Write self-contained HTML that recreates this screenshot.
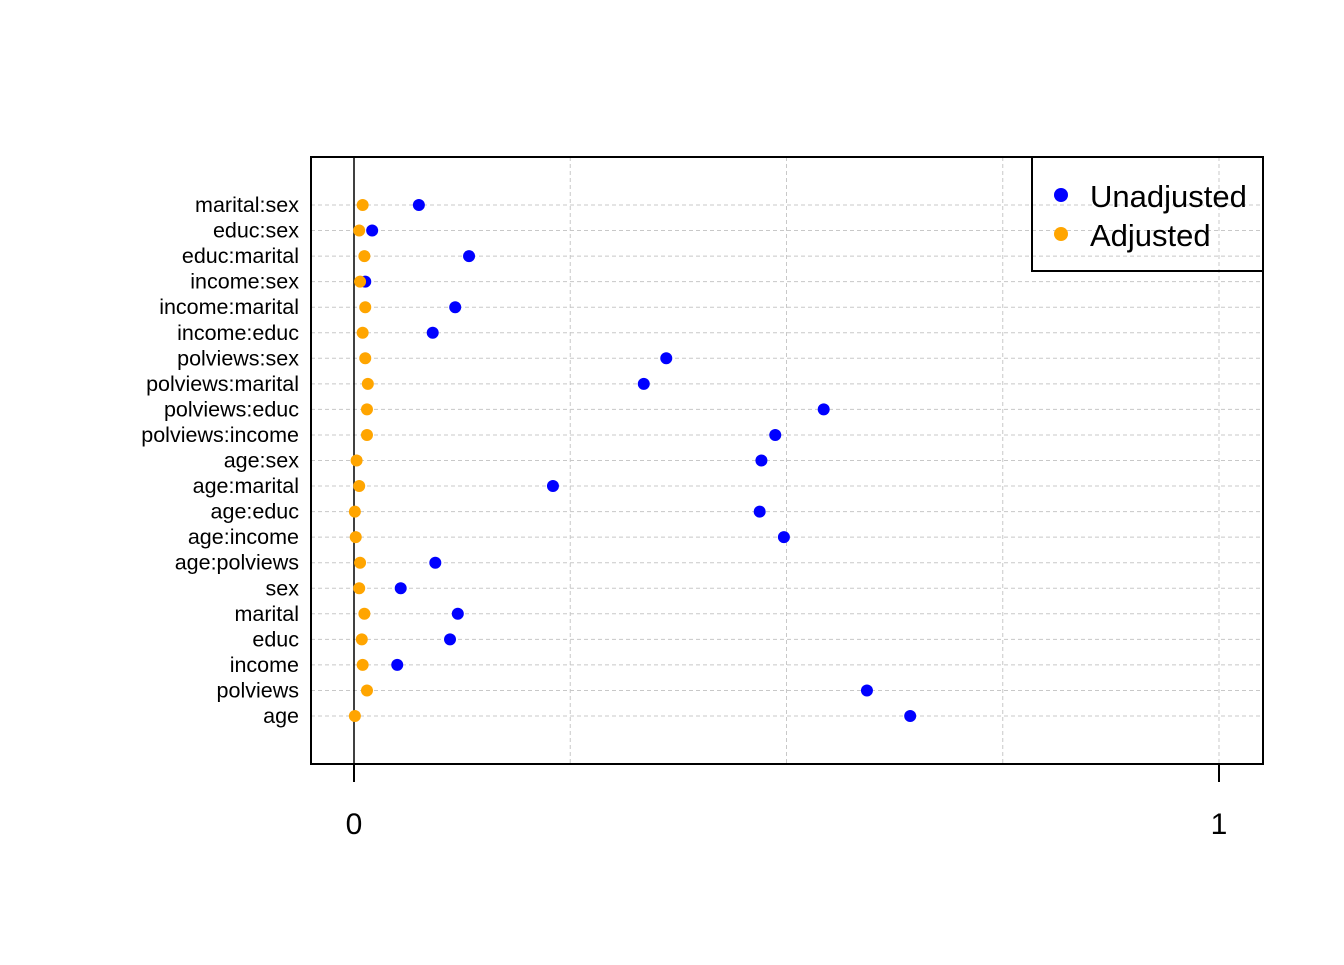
<!DOCTYPE html>
<html><head><meta charset="utf-8"><style>body{margin:0;background:#fff}svg text{font-family:"Liberation Sans",Arial,sans-serif}</style></head>
<body>
<svg id="chart" width="1344" height="960" xmlns="http://www.w3.org/2000/svg"></svg>
<script>
const categories=["marital:sex","educ:sex","educ:marital","income:sex","income:marital","income:educ","polviews:sex","polviews:marital","polviews:educ","polviews:income","age:sex","age:marital","age:educ","age:income","age:polviews","sex","marital","educ","income","polviews","age"];
const unadjusted=[0.075,0.021,0.133,0.013,0.117,0.091,0.361,0.335,0.543,0.487,0.471,0.230,0.469,0.497,0.094,0.054,0.120,0.111,0.050,0.593,0.643];
const adjusted=[0.010,0.006,0.012,0.007,0.013,0.010,0.013,0.016,0.015,0.015,0.003,0.006,0.001,0.002,0.007,0.006,0.012,0.009,0.010,0.015,0.001];
const xTicks=[0,1];
const gridVals=[0.25,0.5,0.75,1];
const svg=document.getElementById('chart');
const NS="http://www.w3.org/2000/svg";
const x=v=>354+v*865;
const y=i=>205+i*(716-205)/(categories.length-1);
function mk(t,a,txt){const e=document.createElementNS(NS,t);for(const k in a)e.setAttribute(k,a[k]);if(txt!==undefined)e.textContent=txt;svg.appendChild(e);return e;}
gridVals.forEach(v=>{const e=mk('line',{x1:x(v),x2:x(v),y1:157,y2:764,stroke:'#c8c8c8','stroke-dasharray':'4,3'});

});
categories.forEach((c,i)=>{const g=mk('line',{x1:311,x2:1263,y1:y(i),y2:y(i),stroke:'#c8c8c8','stroke-dasharray':'4,3'});


const t=mk('text',{x:299,y:y(i)+7,'text-anchor':'end','font-size':21.5},c);

});
const zl=mk('line',{x1:x(0),x2:x(0),y1:157,y2:764,stroke:'#000','stroke-width':1.5});


categories.forEach((c,i)=>{const u=mk('circle',{cx:x(unadjusted[i]),cy:y(i),r:6,fill:'#0000ff'});


const a=mk('circle',{cx:x(adjusted[i]),cy:y(i),r:6,fill:'#ffa500'});

});
const box=mk('rect',{x:311,y:157,width:952,height:607,fill:'none',stroke:'#000','stroke-width':2});


xTicks.forEach(v=>{const l=mk('line',{x1:x(v),x2:x(v),y1:764,y2:782,stroke:'#000','stroke-width':2});


const t=mk('text',{x:x(v),y:834,'text-anchor':'middle','font-size':30},String(v));

});
const lg=mk('rect',{x:1032,y:157,width:231,height:114,fill:'none',stroke:'#000','stroke-width':2});


[['Unadjusted','#0000ff',195],['Adjusted','#ffa500',234]].forEach(([n,c,yy])=>{const d=mk('circle',{cx:1061,cy:yy,r:7,fill:c});


const t=mk('text',{x:1090,y:yy+12,'font-size':31},n);

});
</script>
</body></html>
